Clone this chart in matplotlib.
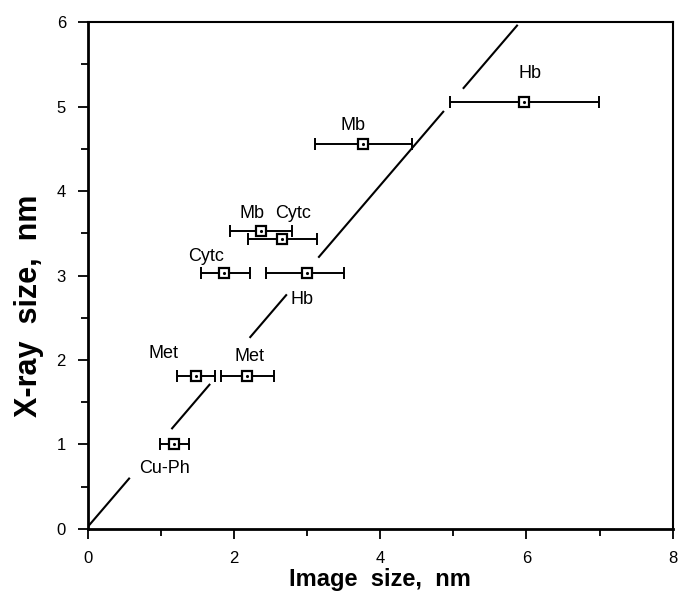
import matplotlib
matplotlib.use("Agg")
import matplotlib.pyplot as plt
from matplotlib.ticker import MultipleLocator

plt.rcParams['font.family'] = ['Liberation Sans', 'DejaVu Sans']

# data: image size (x), x-ray size (y), error bar ends
names = ['Cu-Ph', 'Met', 'Met', 'Cytc', 'Hb', 'Mb', 'Cytc', 'Mb', 'Hb']
img_size = [1.18, 1.48, 2.18, 1.86, 2.99, 2.37, 2.66, 3.76, 5.96]
xray_size = [1.01, 1.81, 1.81, 3.03, 3.03, 3.53, 3.43, 4.56, 5.05]
err_lo = [0.98, 1.22, 1.82, 1.55, 2.44, 1.94, 2.19, 3.11, 4.95]
err_hi = [1.38, 1.73, 2.54, 2.21, 3.50, 2.79, 3.13, 4.43, 6.99]

# label positions
lab_text = ['Cu-Ph', 'Met', 'Met', 'Cytc', 'Hb', 'Mb', 'Cytc', 'Mb', 'Hb']
lab_x = [1.04, 1.03, 2.21, 1.61, 2.93, 2.24, 2.81, 3.62, 6.05]
lab_y = [0.72, 2.08, 2.04, 3.22, 2.72, 3.74, 3.74, 4.78, 5.39]

# y = x line, drawn in pieces with gaps around the labels
line_start = [0.0, 1.14, 2.21, 3.15, 5.13]
line_end = [0.57, 1.67, 2.72, 4.87, 5.88]

fig = plt.figure(figsize=(6.78, 5.99), dpi=100)
ax = fig.add_axes([0.130, 0.117, 0.862, 0.846])

for a, b in zip(line_start, line_end):
    ax.plot([a, b], [a * 1.01 + 0.03, b * 1.01 + 0.03], color='black', lw=1.5, solid_capstyle='butt')

xerr = [[v - lo for v, lo in zip(img_size, err_lo)],
        [hi - v for v, hi in zip(img_size, err_hi)]]
ax.errorbar(img_size, xray_size, xerr=xerr, fmt='none', ecolor='black',
            elinewidth=1.4, capsize=4, capthick=1.4)
ax.plot(img_size, xray_size, 's', ms=6.5, mfc='white', mec='black', mew=1.6)
ax.plot(img_size, xray_size, '.', ms=2.5, color='black')

for t, x, y in zip(lab_text, lab_x, lab_y):
    ax.text(x, y, t, ha='center', va='center', fontsize=13)

ax.set_xlim(0, 8)
ax.set_ylim(0, 6)
ax.xaxis.set_major_locator(MultipleLocator(2))
ax.xaxis.set_minor_locator(MultipleLocator(1))
ax.yaxis.set_major_locator(MultipleLocator(1))
ax.yaxis.set_minor_locator(MultipleLocator(0.5))
ax.tick_params(which='both', direction='out', width=1.3, labelsize=12)
ax.tick_params(which='major', length=7, pad=9)
ax.tick_params(which='minor', length=5)
for s in ax.spines.values():
    s.set_linewidth(1.5)
ax.spines['left'].set_linewidth(2)
ax.spines['bottom'].set_linewidth(2)

ax.set_xlabel('Image  size,  nm', fontsize=17, fontweight='bold')
ax.set_ylabel('X-ray  size,  nm', fontsize=22, fontweight='bold')
ax.xaxis.set_label_coords(0.50, -0.078)
ax.yaxis.set_label_coords(-0.076, 0.44)

fig.savefig('out.png', dpi=100)
